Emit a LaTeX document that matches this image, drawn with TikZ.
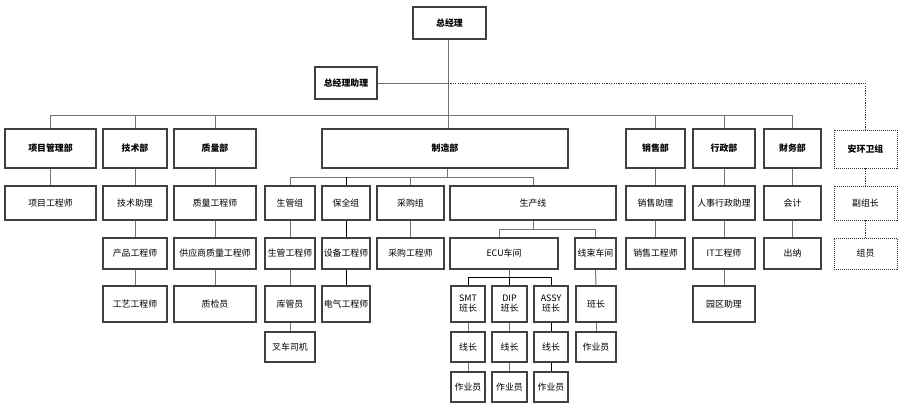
\documentclass[tikz,border=0pt]{standalone}
\usepackage{fontspec}
\setmainfont{Noto Sans CJK SC}
\begin{document}
\begin{tikzpicture}[x=1pt,y=-1pt,
  box/.style={draw=black!75,line width=1.1pt,fill=white,inner sep=0pt,align=center,
    font=\fontsize{8.9}{10}\selectfont,text=black},
  bbox/.style={box,font=\fontsize{8.9}{10}\selectfont\bfseries},
  dbox/.style={draw=black!80,line width=0.9pt,dash pattern=on 1pt off 1pt},
  conn/.style={draw=black!55,line width=1pt},
  connk/.style={draw=black,line width=1pt},
  dconn/.style={draw=black!80,line width=0.9pt,dash pattern=on 1.2pt off 1.2pt}]
\useasboundingbox (0,0) rectangle (917,413);
\newcommand\bx[7][]{\node[box,#1,minimum width={#5-#3},minimum height={#6-#4}] (#2) at ({(#3+#5)/2},{(#4+#6)/2}) {#7};}
% level 0-1
\bx[bbox]{gm}{413}{7}{486}{39}{总经理}
\bx[bbox]{asst}{315}{67}{377}{99}{总经理助理}
% level 2
\bx[bbox]{pm}{5}{129}{96}{168}{项目管理部}
\bx[bbox]{tech}{103}{129}{167}{168}{技术部}
\bx[bbox]{qa}{174}{129}{256}{168}{质量部}
\bx[bbox]{mfg}{322}{129}{568}{168}{制造部}
\bx[bbox]{sales}{626}{129}{685}{168}{销售部}
\bx[bbox]{admin}{693}{129}{755}{168}{行政部}
\bx[bbox]{fin}{764}{129}{821}{168}{财务部}
\bx[bbox,dbox]{ehs}{834}{130}{897}{168}{安环卫组}
% level 3
\bx{pme}{5}{186}{96}{220}{项目工程师}
\bx{techa}{103}{186}{167}{220}{技术助理}
\bx{qae}{174}{186}{256}{220}{质量工程师}
\bx{pc}{265}{186}{315}{220}{生管组}
\bx{mt}{322}{186}{370}{220}{保全组}
\bx{pur}{377}{186}{444}{220}{采购组}
\bx{line}{450}{186}{616}{220}{生产线}
\bx{salesa}{626}{186}{685}{220}{销售助理}
\bx{hr}{693}{186}{755}{220}{人事行政助理}
\bx{acc}{764}{186}{821}{220}{会计}
\bx[dbox]{vl}{834}{186}{897}{220}{副组长}
% level 4
\bx{pe}{103}{238}{167}{269}{产品工程师}
\bx{sqe}{174}{238}{256}{269}{供应商质量工程师}
\bx{pce}{265}{238}{315}{269}{生管工程师}
\bx{eqe}{322}{238}{370}{269}{设备工程师}
\bx{pure}{377}{238}{444}{269}{采购工程师}
\bx{ecu}{450}{238}{558}{269}{ECU车间}
\bx{wh}{575}{238}{616}{269}{线束车间}
\bx{se}{626}{238}{685}{269}{销售工程师}
\bx{it}{693}{238}{755}{269}{IT工程师}
\bx{cash}{764}{238}{821}{269}{出纳}
\bx[dbox]{mem}{834}{238}{897}{269}{组员}
% level 5
\bx{proc}{103}{286}{167}{322}{工艺工程师}
\bx{qc}{174}{286}{256}{322}{质检员}
\bx{wk}{265}{286}{315}{322}{库管员}
\bx{ee}{322}{286}{370}{322}{电气工程师}
\bx{smt}{451}{286}{485}{322}{SMT\\班长}
\bx{dip}{492}{286}{527}{322}{DIP\\班长}
\bx{assy}{534}{286}{568}{322}{ASSY\\班长}
\bx{whl}{576}{286}{616}{322}{班长}
\bx{park}{693}{286}{755}{322}{园区助理}
% level 6
\bx{fork}{265}{332}{315}{362}{叉车司机}
\bx{ls}{451}{332}{485}{362}{线长}
\bx{ld}{492}{332}{527}{362}{线长}
\bx{la}{534}{332}{568}{362}{线长}
\bx{wo}{576}{332}{616}{362}{作业员}
% level 7
\bx{os}{451}{372}{485}{402}{作业员}
\bx{od}{492}{372}{527}{402}{作业员}
\bx{oa}{534}{372}{568}{402}{作业员}
% coordinates
\coordinate (busA) at (448,115);
\coordinate (asj) at (448,83);
\coordinate (busB) at (447,177);
\coordinate (busC) at (533,229);
\coordinate (busD) at (509,277);
\coordinate (ecuj) at (499,229);
% top connectors
\path[conn] (gm.south -| busA) -- (mfg.north -| busA);
\path[conn] (asst.east) -- (asj);
\path[dconn] (asj) -- (asj -| ehs.north) -- (ehs.north);
\path[conn] (pm.north |- busA) -- (fin.north |- busA);
\foreach \n in {pm,tech,qa,sales,admin,fin} {\path[conn] (\n.north |- busA) -- (\n.north);}
% manufacturing bus
\path[conn] (mfg.south -| busB) -- (busB);
\path[conn] (pc.north |- busB) -- (line.north |- busB);
\foreach \n in {pc,pur,line} {\path[conn] (\n.north |- busB) -- (\n.north);}
\path[connk] (mt.north |- busB) -- (mt.north);
% production line bus
\path[conn] (line.south -| busC) -- (busC);
\path[conn] (ecuj) -- (wh.north |- busC);
\path[conn] (ecuj) -- (ecuj |- ecu.north);
\path[conn] (wh.north |- busC) -- (wh.north);
% ECU bus
\path[conn] (ecu.south -| busD) -- (busD);
\path[connk] (smt.north |- busD) -- (assy.north |- busD);
\foreach \n in {smt,dip,assy} {\path[connk] (\n.north |- busD) -- (\n.north);}
% vertical chains
\path[conn] (pm) -- (pme);
\path[conn] (tech) -- (techa);
\path[conn] (techa) -- (pe);
\path[conn] (pe) -- (proc);
\path[conn] (qa) -- (qae);
\path[conn] (qae) -- (sqe);
\path[conn] (sqe) -- (qc);
\path[conn] (pc) -- (pce);
\path[conn] (pce) -- (wk);
\path[conn] (wk) -- (fork);
\path[connk] (mt) -- (eqe);
\path[connk] (eqe) -- (ee);
\path[conn] (pur) -- (pure);
\path[conn] (wh) -- (whl);
\path[conn] (whl) -- (wo);
\path[conn] (smt) -- (ls);
\path[conn] (ls) -- (os);
\path[conn] (dip) -- (ld);
\path[conn] (ld) -- (od);
\path[connk] (assy) -- (la);
\path[connk] (la) -- (oa);
\path[conn] (sales) -- (salesa);
\path[conn] (salesa) -- (se);
\path[conn] (admin) -- (hr);
\path[conn] (hr) -- (it);
\path[conn] (it) -- (park);
\path[conn] (fin) -- (acc);
\path[conn] (acc) -- (cash);
\path[dconn] (ehs) -- (vl);
\path[dconn] (vl) -- (mem);
\end{tikzpicture}
\end{document}
